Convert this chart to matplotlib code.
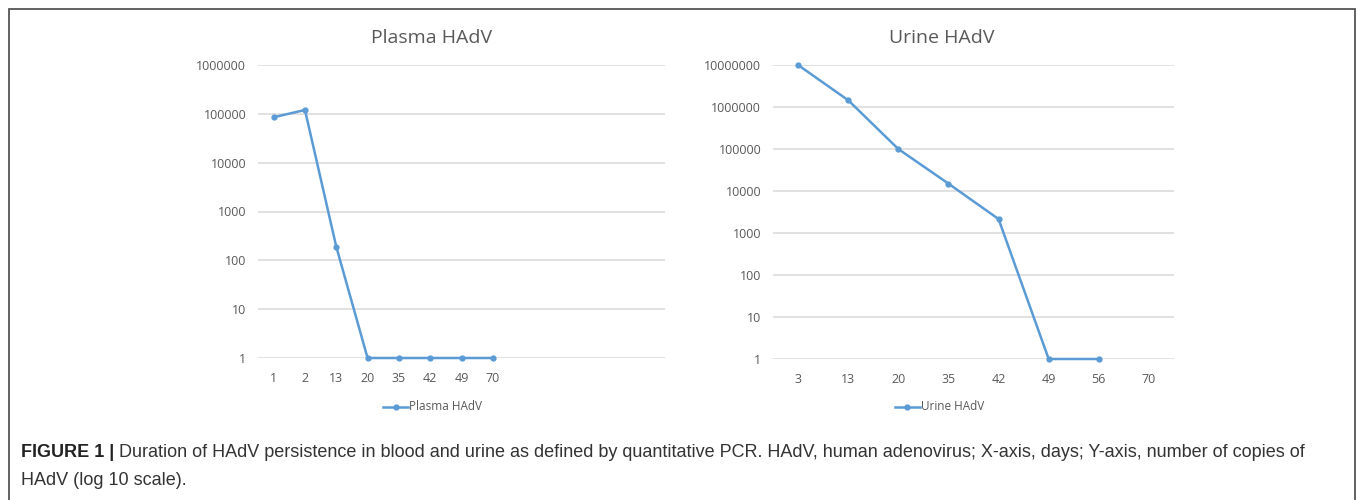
import matplotlib
matplotlib.use("Agg")
import matplotlib.pyplot as plt
import numpy as np
from matplotlib.patches import Rectangle
from matplotlib.lines import Line2D

# data (days vs copies, log scale)
plasma_days = ["1", "2", "13", "20", "35", "42", "49", "70"]
plasma_copies = [85000, 120000, 190, 1, 1, 1, 1, 1]

urine_days = ["3", "13", "20", "35", "42", "49", "56", "70"]
urine_copies = [10000000, 1450000, 100000, 15000, 2150, 1, 1, np.nan]

line_blue = "#5B9BD5"
grid_gray = "#D9D9D9"
text_gray = "#595959"
tick_font = "Open Sans"

W, H = 1358, 500
fig = plt.figure(figsize=(W / 100, H / 100), dpi=100)


def px_box(x0, y0, x1, y1):
    # pixel box -> figure fraction [left, bottom, width, height]
    return [x0 / W, 1 - y1 / H, (x1 - x0) / W, (y1 - y0) / H]


def draw_panel(box, days, copies, nslots, ymax, title, title_x, legend_x):
    ax = fig.add_axes(px_box(*box))
    x = np.arange(len(days))
    ax.plot(x, copies, color=line_blue, lw=1.8, marker="o", ms=3.5,
            solid_capstyle="round", zorder=3, clip_on=False)
    ax.set_yscale("log")
    ax.set_ylim(1, ymax)
    ax.set_xlim(-0.5, nslots - 0.5)
    decades = [10 ** k for k in range(int(np.log10(ymax)) + 1)]
    ax.set_yticks(decades)
    ax.set_yticklabels([str(d) for d in decades])
    ax.yaxis.set_minor_locator(matplotlib.ticker.NullLocator())
    ax.set_xticks(x)
    ax.set_xticklabels(days)
    for s in ax.spines.values():
        s.set_visible(False)
    ax.tick_params(length=0, labelsize=9, colors=text_gray, pad=10)
    ax.tick_params(axis="y", pad=8.5)
    for lab in ax.get_xticklabels() + ax.get_yticklabels():
        lab.set_fontfamily(tick_font)
    ax.grid(axis="y", color=grid_gray, lw=1.1)
    ax.set_axisbelow(True)

    fig.text(title_x / W, 1 - 38 / H, title, ha="center", va="center",
             fontsize=14, color=text_gray, family=tick_font)
    # legend entry under the panel
    lx0 = legend_x
    ly = 1 - 407 / H
    fig.add_artist(Line2D([lx0 / W, (lx0 + 25) / W], [ly, ly], color=line_blue,
                          lw=1.8, transform=fig.transFigure))
    fig.add_artist(Line2D([(lx0 + 12.5) / W], [ly], color=line_blue, marker="o",
                          ms=3.5, transform=fig.transFigure))
    fig.text((lx0 + 26) / W, ly, title, ha="left", va="center", fontsize=8.5,
             color=text_gray, family=tick_font)
    return ax


draw_panel((258, 65, 665, 358), plasma_days, plasma_copies, 13, 1e6,
           "Plasma HAdV", 432, 383)
draw_panel((773, 65, 1174, 359), urine_days, urine_copies, 8, 1e7,
           "Urine HAdV", 942, 895)

# outer frame
fig.add_artist(Rectangle((8.5 / W, -0.01), (1355 - 8.5) / W, 1 - 8.5 / H + 0.01,
                         transform=fig.transFigure, fill=False,
                         edgecolor="#555555", lw=1.3))

# caption: bold label followed by regular text
cap_font = "Liberation Sans"
cap_size = 13
fig.canvas.draw()
r = fig.canvas.get_renderer()
bold = fig.text(21 / W, 1 - 457 / H, "FIGURE 1 | ", fontsize=cap_size,
                fontweight="bold", family=cap_font, color="#222222",
                va="baseline")
bb = bold.get_window_extent(renderer=r)
fig.text(bb.x1 / W, 1 - 457 / H,
         "Duration of HAdV persistence in blood and urine as defined by quantitative PCR. "
         "HAdV, human adenovirus; X-axis, days; Y-axis, number of copies of",
         fontsize=cap_size, family=cap_font, color="#333333", va="baseline")
fig.text(21 / W, 1 - 485 / H, "HAdV (log 10 scale).", fontsize=cap_size,
         family=cap_font, color="#333333", va="baseline")

fig.savefig("out.png", dpi=100, facecolor="white")
